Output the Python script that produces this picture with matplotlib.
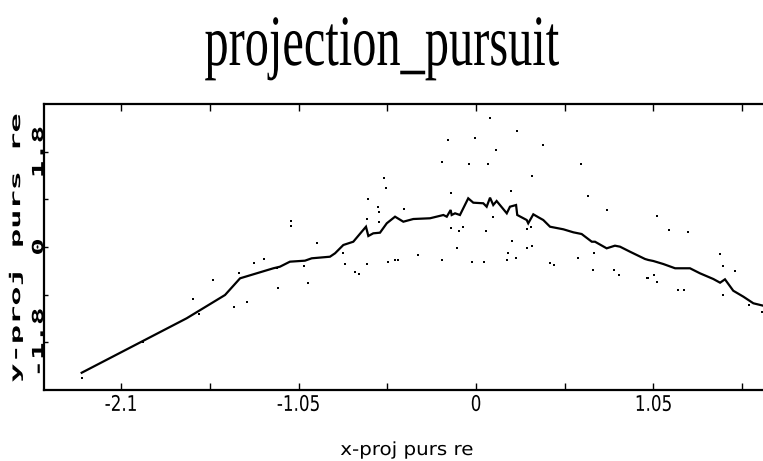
import matplotlib
matplotlib.use("Agg")
import matplotlib.pyplot as plt
from matplotlib.patheffects import AbstractPathEffect
from matplotlib.transforms import Affine2D

# ---------------- data ----------------
title = "projection_pursuit"
x_label = "x-proj purs re"
y_label = "y-proj purs re"

x_ticks = [-2.1, -1.575, -1.05, -0.525, 0.0, 0.525, 1.05, 1.575]
x_tick_labels = ["-2.1", "", "-1.05", "", "0", "", "1.05", ""]
y_ticks = [-1.8, -0.9, 0.0, 0.9, 1.8]
y_tick_labels = ["-1.8", "", "0", "", "1.8"]

# fitted projection-pursuit ridge curve
curve_x = [-2.333, -1.712, -1.485, -1.396, -1.199, -1.160, -1.101, -1.012, -0.972,
           -0.864, -0.834, -0.785, -0.726, -0.676, -0.651, -0.637, -0.608, -0.568,
           -0.528, -0.479, -0.430, -0.371, -0.272, -0.193, -0.173, -0.150, -0.144,
           -0.124, -0.095, -0.046, -0.016, 0.043, 0.063, 0.083, 0.102, 0.122, 0.182,
           0.201, 0.237, 0.244, 0.300, 0.309, 0.339, 0.369, 0.398, 0.438, 0.517,
           0.576, 0.625, 0.685, 0.704, 0.773, 0.822, 0.852, 0.911, 1.000, 1.020,
           1.049, 1.108, 1.178, 1.266, 1.325, 1.404, 1.444, 1.473, 1.522, 1.582,
           1.641, 1.700]
curve_y = [-2.381, -1.350, -0.909, -0.593, -0.403, -0.373, -0.278, -0.259, -0.214,
           -0.184, -0.119, 0.038, 0.100, 0.290, 0.384, 0.208, 0.259, 0.271,
           0.449, 0.574, 0.479, 0.530, 0.544, 0.606, 0.574, 0.701, 0.606,
           0.638, 0.606, 0.922, 0.839, 0.828, 0.763, 0.934, 0.795, 0.871, 0.638,
           0.763, 0.795, 0.606, 0.511, 0.449, 0.619, 0.563, 0.511, 0.384, 0.335,
           0.278, 0.246, 0.100, 0.100, -0.025, 0.025, 0.006, -0.089, -0.227, -0.246,
           -0.265, -0.322, -0.403, -0.403, -0.498, -0.606, -0.676, -0.612, -0.828, -0.941,
           -1.066, -1.112]

# observed points
pts_x = [-2.333, -1.972, -1.676, -1.639, -1.554, -1.430, -1.401, -1.357, -1.314,
         -1.254, -1.176, -1.170, -1.096, -1.096, -1.018, -0.992, -0.943, -0.785,
         -0.775, -0.716, -0.691, -0.647, -0.647, -0.641, -0.582, -0.572, -0.574,
         -0.544, -0.533, -0.519, -0.479, -0.460, -0.424, -0.345, -0.199, -0.203,
         -0.164, -0.150, -0.150, -0.114, -0.101, -0.079, -0.041, -0.022, -0.006,
         0.049, 0.057, 0.073, 0.083, 0.102, 0.118, 0.182, 0.188, 0.209, 0.211,
         0.237, 0.241, 0.300, 0.304, 0.325, 0.330, 0.333, 0.398, 0.438, 0.462,
         0.605, 0.621, 0.665, 0.694, 0.700, 0.773, 0.817, 0.846, 1.010, 1.018,
         1.053, 1.069, 1.069, 1.144, 1.197, 1.233, 1.253, 1.444, 1.463, 1.463,
         1.533, 1.617, 1.691]
pts_y = [-2.487, -1.805, -0.991, -1.269, -0.625, -1.131, -0.498, -1.036, -0.309,
         -0.227, -0.403, -0.771, 0.498, 0.398, -0.360, -0.676, 0.081, -0.108,
         -0.322, -0.468, -0.511, -0.328, 0.530, 0.903, 0.752, 0.669, 0.479,
         1.301, 1.123, -0.290, -0.246, -0.246, 0.714, -0.152, 1.616, -0.246,
         2.027, 1.028, 0.354, -0.013, 0.303, 0.384, 1.572, -0.290, 2.070,
         -0.290, 0.303, 1.572, 2.438, 0.563, 1.837, -0.246, -0.119, 1.066, 0.114,
         -0.203, 2.203, -0.025, 0.335, 0.384, 0.025, 1.345, 1.932, -0.297, -0.341,
         -0.214, 1.566, 0.966, -0.436, -0.119, 0.701, -0.436, -0.530, -0.581, -0.581,
         -0.530, -0.669, 0.593, 0.322, -0.814, -0.814, 0.278, -0.133, -0.354, -0.909,
         -0.449, -1.098, -1.225]

x_range = (-2.556, 1.698)
y_range = (-2.708, 2.708)


# ---------------- helpers ----------------
class Stretch(AbstractPathEffect):
    """Scale rendered glyphs about their own centre (display coords)."""
    def __init__(self, sx=1.0, sy=1.0):
        super().__init__()
        self.sx, self.sy = sx, sy

    def draw_path(self, renderer, gc, tpath, affine, rgbFace=None):
        ext = tpath.get_extents(affine)
        cx, cy = (ext.x0 + ext.x1) / 2.0, (ext.y0 + ext.y1) / 2.0
        aff = affine + Affine2D().translate(-cx, -cy).scale(self.sx, self.sy).translate(cx, cy)
        renderer.draw_path(gc, tpath, aff, rgbFace)


W, H = 763, 461
fig = plt.figure(figsize=(W / 100, H / 100), dpi=100)
fig.patch.set_facecolor("white")

ax = fig.add_axes([44 / W, 1 - 390 / H, (W - 44) / W, 286 / H])
ax.set_facecolor("white")

ax.plot(curve_x, curve_y, color="black", lw=1.6, solid_joinstyle="miter")
ax.plot(pts_x, pts_y, linestyle="none", marker="s", ms=1.7, mew=0, color="black")

ax.set_xlim(*x_range)
ax.set_ylim(*y_range)

for side in ["top", "left", "bottom"]:
    ax.spines[side].set_linewidth(1.6)
    ax.spines[side].set_color("black")
ax.spines["right"].set_visible(False)

ax.set_xticks(x_ticks)
ax.set_xticklabels(x_tick_labels, family="DejaVu Sans", fontsize=15.5)
ax.tick_params(axis="x", direction="in", length=5, width=1.0, top=True,
               bottom=True, pad=3.5, colors="black")
for lab in ax.get_xticklabels():
    lab.set_path_effects([Stretch(0.78, 1.0)])

ax.set_yticks(y_ticks)
ax.set_yticklabels(y_tick_labels, family="DejaVu Sans Mono", fontweight="bold",
                   fontsize=11, rotation=90, va="center")
ax.tick_params(axis="y", direction="in", length=3, width=1.0, left=True,
               right=False, pad=-1.5, colors="black")
for lab in ax.get_yticklabels():
    lab.set_path_effects([Stretch(1.0, 1.9)])

# title (tall condensed serif)
fig.text(382 / W, 1 - 65 / H, title, ha="center", va="baseline",
         family="Liberation Serif", fontsize=52, color="black",
         path_effects=[Stretch(0.67, 1.0)])

# axis labels
fig.text(407 / W, 1 - 450 / H, x_label, ha="center", va="center",
         family="DejaVu Sans", fontsize=13, color="black",
         path_effects=[Stretch(1.1, 1.0)])
fig.text(16 / W, 1 - 248 / H, y_label, ha="center", va="center", rotation=90,
         family="DejaVu Sans Mono", fontweight="bold", fontsize=10, color="black",
         path_effects=[Stretch(1.0, 2.3)])

fig.savefig("out.png", dpi=100, facecolor="white")
